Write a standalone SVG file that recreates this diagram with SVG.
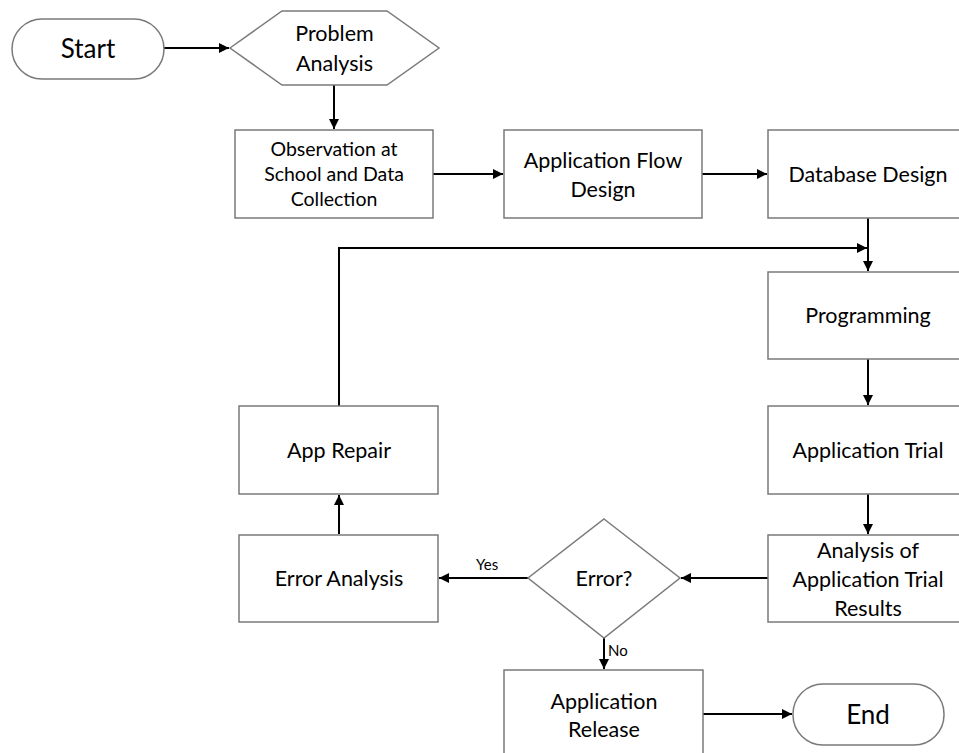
<svg xmlns="http://www.w3.org/2000/svg" width="959" height="753" viewBox="0 0 959 753">
<style>
.box{fill:#fff;stroke:#7a7a7a;stroke-width:1.5}
.t{font-family:Lato,"Liberation Sans",sans-serif;font-size:21.5px;fill:#000;text-anchor:middle}
.s{font-size:19.5px}
.big{font-size:26px}
.lbl{font-family:Lato,"Liberation Sans",sans-serif;font-size:15px;fill:#000}
.c{fill:none;stroke:#000;stroke-width:2}
</style>
<defs>
<marker id="a" viewBox="0 0 10 10" refX="10" refY="5" markerWidth="5" markerHeight="5" orient="auto" markerUnits="strokeWidth">
<path d="M0,0 L10,5 L0,10 z" fill="#000"/>
</marker>
</defs>
<rect width="959" height="753" fill="#fff"/>
<g id="connectors">
<path class="c" d="M164,48 H229" marker-end="url(#a)"/>
<path class="c" d="M334,85 V129" marker-end="url(#a)"/>
<path class="c" d="M433,174 H503" marker-end="url(#a)"/>
<path class="c" d="M702,174 H767" marker-end="url(#a)"/>
<path class="c" d="M868,218 V271" marker-end="url(#a)"/>
<path class="c" d="M339,406 V248 H867" marker-end="url(#a)"/>
<path class="c" d="M868,359 V405" marker-end="url(#a)"/>
<path class="c" d="M868,494 V534" marker-end="url(#a)"/>
<path class="c" d="M768,578 H681" marker-end="url(#a)"/>
<path class="c" d="M528,578 H439" marker-end="url(#a)"/>
<path class="c" d="M339,534 V495" marker-end="url(#a)"/>
<path class="c" d="M604,638 V669" marker-end="url(#a)"/>
<path class="c" d="M703,714 H792" marker-end="url(#a)"/>
<text class="lbl" x="476" y="570">Yes</text>
<text class="lbl" x="608" y="656">No</text>
</g>
<g id="start">
<rect class="box" x="12" y="19" width="152" height="60" rx="30"/>
<text class="t big" x="88" y="58">Start</text>
</g>
<g id="problem-analysis">
<polygon class="box" points="230,48 282,11 387,11 439,48 387,85 282,85"/>
<text class="t" x="334.5" y="41">Problem</text>
<text class="t" x="334.5" y="71">Analysis</text>
</g>
<g id="observation">
<rect class="box" x="235" y="130" width="198" height="88"/>
<text class="t s" x="334" y="156">Observation at</text>
<text class="t s" x="334" y="181">School and Data</text>
<text class="t s" x="334" y="206">Collection</text>
</g>
<g id="app-flow-design">
<rect class="box" x="504" y="130" width="198" height="88"/>
<text class="t" x="603" y="168">Application Flow</text>
<text class="t" x="603" y="197">Design</text>
</g>
<g id="database-design">
<rect class="box" x="768" y="130" width="198" height="88"/>
<text class="t" x="868" y="182">Database Design</text>
</g>
<g id="programming">
<rect class="box" x="768" y="272" width="198" height="87"/>
<text class="t" x="868" y="323">Programming</text>
</g>
<g id="application-trial">
<rect class="box" x="768" y="406" width="198" height="88"/>
<text class="t" x="868" y="458">Application Trial</text>
</g>
<g id="analysis-results">
<rect class="box" x="768" y="535" width="198" height="87"/>
<text class="t" x="868" y="558">Analysis of</text>
<text class="t" x="868" y="587">Application Trial</text>
<text class="t" x="868" y="616">Results</text>
</g>
<g id="error-decision">
<polygon class="box" points="604,519 680,578 604,638 528,578"/>
<text class="t" x="604" y="586">Error?</text>
</g>
<g id="error-analysis">
<rect class="box" x="239" y="535" width="199" height="87"/>
<text class="t" x="339" y="586">Error Analysis</text>
</g>
<g id="app-repair">
<rect class="box" x="239" y="406" width="199" height="88"/>
<text class="t" x="339" y="458">App Repair</text>
</g>
<g id="application-release">
<rect class="box" x="504" y="670" width="199" height="88"/>
<text class="t" x="604" y="709">Application</text>
<text class="t" x="604" y="737">Release</text>
</g>
<g id="end">
<rect class="box" x="793" y="684" width="151" height="61" rx="30"/>
<text class="t big" x="868" y="724">End</text>
</g>
</svg>
